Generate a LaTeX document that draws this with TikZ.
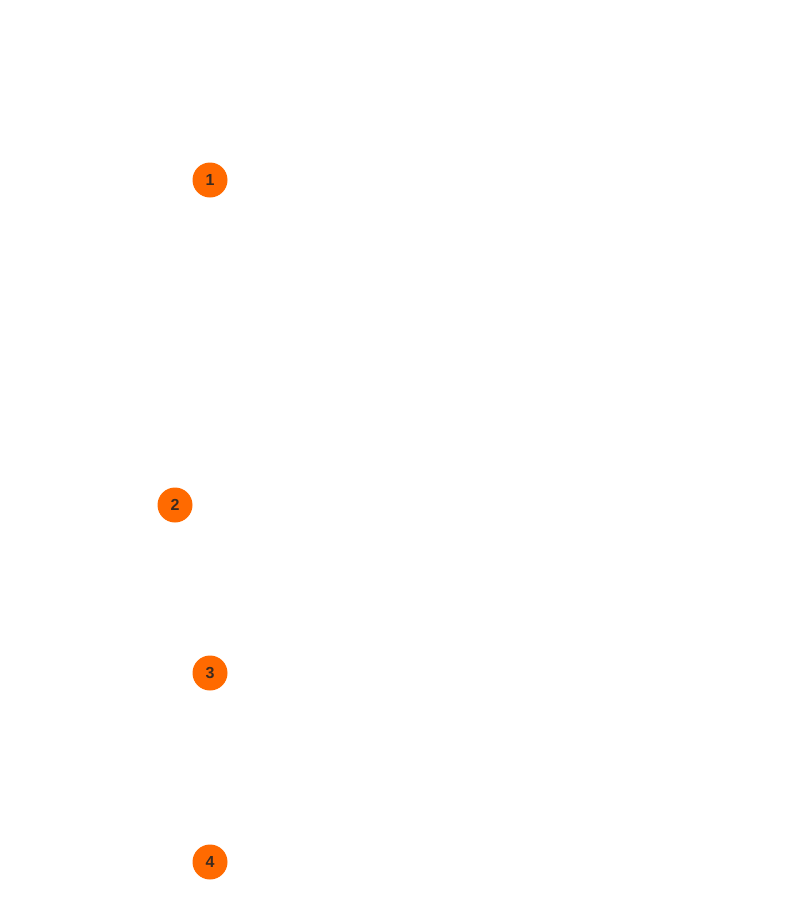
\documentclass[tikz,border=0pt]{standalone}
\usepackage{fontspec}
\setmainfont{Liberation Sans}
\definecolor{badge}{HTML}{FF6A00}
\definecolor{numc}{HTML}{3A2A20}
\begin{document}
\begin{tikzpicture}[x=1pt,y=1pt,
  badge/.style={circle,fill=badge,minimum size=35pt,inner sep=0pt,font=\bfseries\fontsize{16}{16}\selectfont,text=numc}]
\useasboundingbox (0,0) rectangle (786,-900);
\node[badge] (n1) at (210,-180) {1};
\node[badge] (n2) at (175,-505) {2};
\node[badge] (n3) at (210,-673) {3};
\node[badge] (n4) at (210,-862) {4};
\end{tikzpicture}
\end{document}
